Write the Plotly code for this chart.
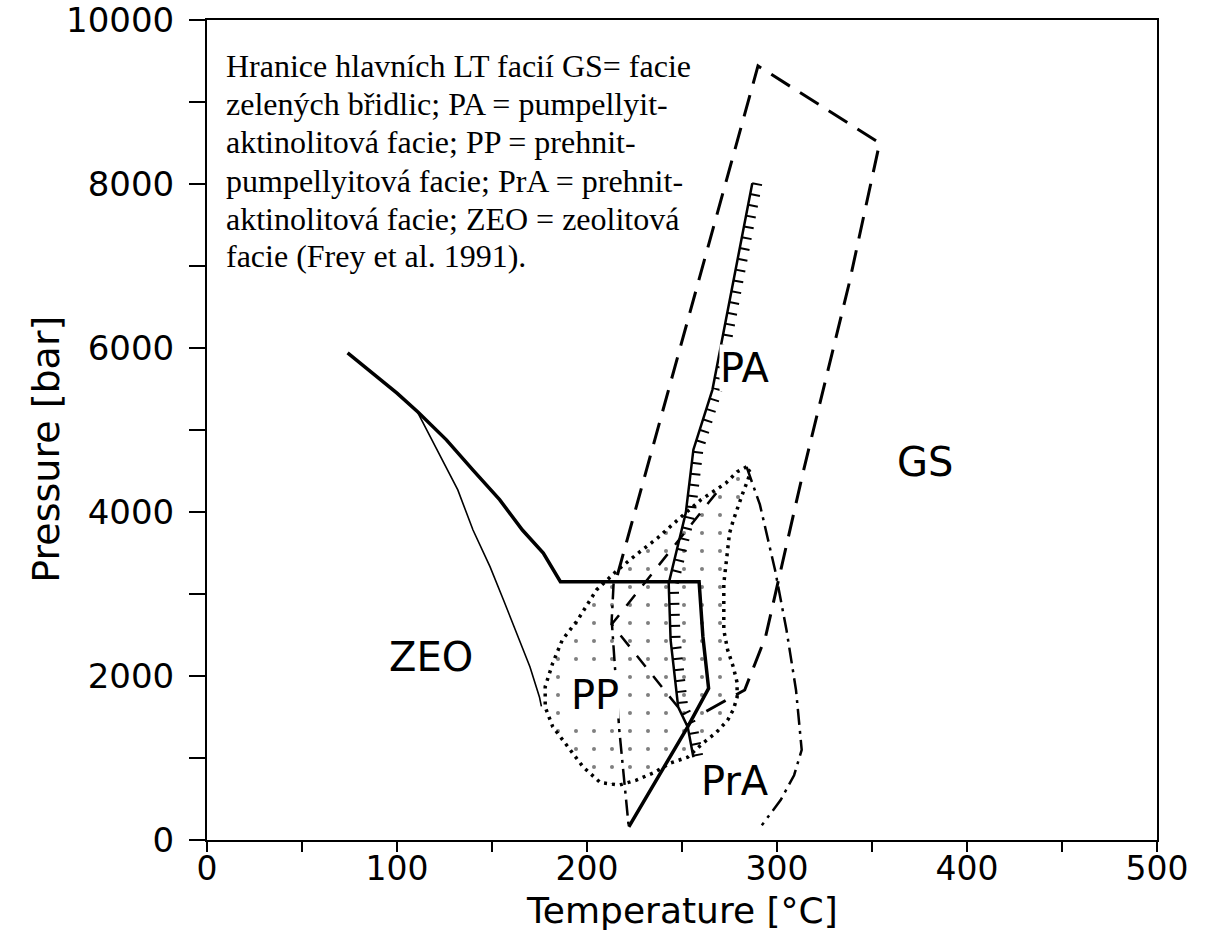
import plotly.graph_objects as go

# ---------------- data ----------------
x_tick_vals = [0, 100, 200, 300, 400, 500]
x_tick_text = ["0", "100", "200", "300", "400", "500"]
y_tick_vals = [0, 2000, 4000, 6000, 8000, 10000]
y_tick_text = ["0", "2000", "4000", "6000", "8000", "10000"]

# ZEO / PP boundary (thick solid)
zeo_T = [74, 87, 100, 111, 126, 140, 154, 166, 177, 186, 259, 261, 264, 253, 222]
zeo_P = [5940, 5700, 5450, 5220, 4880, 4510, 4150, 3780, 3500, 3150, 3150, 2480, 1850, 1380, 160]

# thin solid branch
thin_T = [111, 121, 132, 140, 149, 156, 163, 170, 175, 176]
thin_P = [5210, 4760, 4270, 3780, 3330, 2930, 2520, 2110, 1740, 1630]

# PA boundary (hachured line)
pa_T = [287, 275, 266, 256, 252, 243, 244, 248, 253, 256]
pa_P = [8010, 6590, 5490, 4760, 3990, 3130, 2440, 1620, 1380, 1010]

# GS outline (long dashes)
gs_T = [216, 290, 354, 338, 314, 294, 283, 262]
gs_P = [3230, 9440, 8500, 6790, 4510, 2480, 1830, 1560]

# PrA right boundary (dash-dot)
pra_r_T = [284, 291, 299, 305, 310, 313, 309, 302, 292]
pra_r_P = [4550, 4090, 3290, 2560, 1830, 1100, 790, 490, 180]

# PrA left boundary (dash-dot)
pra_l_T = [214, 213, 217, 222]
pra_l_P = [3130, 2680, 1340, 150]

# inner dashed boundary
inner_T = [268, 213, 250]
inner_P = [4230, 2630, 1560]

# PP field (dotted outline, stippled)
pp_T = [284, 279, 273, 260, 249, 237, 227, 216, 205, 195, 187, 182, 178, 178, 182, 190,
        198, 207, 217, 226, 235, 244, 253, 261, 268, 274, 277, 279, 279, 277, 274, 272,
        272, 272, 273, 274, 275, 277, 280, 282, 284, 286, 284]
pp_P = [4550, 4490, 4350, 4150, 3930, 3680, 3500, 3290, 3050, 2680, 2440, 2160, 1870, 1620, 1380, 1130,
        890, 700, 670, 730, 820, 940, 1010, 1180, 1310, 1460, 1590, 1740, 1920, 2110, 2320, 2560,
        2930, 3130, 3330, 3540, 3740, 3900, 4110, 4230, 4350, 4480, 4550]

# field labels
label_text = ["PA", "GS", "ZEO", "PP", "PrA"]
label_T = [283, 378, 118, 204, 278]
label_P = [5760, 4610, 2230, 1770, 720]

# caption lines and their positions (data coordinates)
caption_lines = ["Hranice hlavních LT facií GS= facie",
                 "zelených břidlic; PA = pumpellyit-",
                 "aktinolitová facie; PP = prehnit-",
                 "pumpellyitová facie; PrA = prehnit-",
                 "aktinolitová facie; ZEO = zeolitová",
                 "facie (Frey et al. 1991)."]
caption_T = 9
caption_P = [9440, 8980, 8510, 8040, 7570, 7120]

x_title = "Temperature [°C]"
y_title = "Pressure [bar]"

# ---------------- figure ----------------
SANS = "DejaVu Sans"
fig = go.Figure()

# PP stippled field
fig.add_trace(go.Scatter(
    x=pp_T, y=pp_P, mode="lines", fill="toself",
    fillcolor="rgba(0,0,0,0)",
    fillpattern=dict(shape=".", fgcolor="black", bgcolor="rgba(0,0,0,0)",
                     size=18, solidity=0.04),
    line=dict(color="black", width=3.5, dash="3px,5px"),
    hoverinfo="skip", showlegend=False))

fig.add_trace(go.Scatter(x=gs_T, y=gs_P, mode="lines",
                         line=dict(color="black", width=3, dash="22px,12px"),
                         showlegend=False))
fig.add_trace(go.Scatter(x=pra_r_T, y=pra_r_P, mode="lines",
                         line=dict(color="black", width=2.5, dash="16px,6px,3px,6px"),
                         showlegend=False))
fig.add_trace(go.Scatter(x=pra_l_T, y=pra_l_P, mode="lines",
                         line=dict(color="black", width=2.5, dash="16px,6px,3px,6px"),
                         showlegend=False))
fig.add_trace(go.Scatter(x=inner_T, y=inner_P, mode="lines",
                         line=dict(color="black", width=2.5, dash="14px,12px"),
                         showlegend=False))
fig.add_trace(go.Scatter(x=thin_T, y=thin_P, mode="lines",
                         line=dict(color="black", width=1.6),
                         showlegend=False))
fig.add_trace(go.Scatter(x=zeo_T, y=zeo_P, mode="lines",
                         line=dict(color="black", width=3.5),
                         showlegend=False))
fig.add_trace(go.Scatter(x=pa_T, y=pa_P, mode="lines",
                         line=dict(color="black", width=2.5),
                         showlegend=False))
# hachures of the PA line: same data drawn on an overlaid axis shifted a few pixels
fig.add_trace(go.Scatter(x=pa_T, y=pa_P, mode="lines", xaxis="x2",
                         line=dict(color="black", width=10, dash="2px,9px"),
                         showlegend=False))

for t, xx, yy in zip(label_text, label_T, label_P):
    fig.add_annotation(x=xx, y=yy, text=t, showarrow=False,
                       font=dict(family=SANS, size=40, color="black"),
                       bgcolor="white" if t in ("PA", "PP") else None,
                       borderpad=0)

for line, yy in zip(caption_lines, caption_P):
    fig.add_annotation(x=caption_T, y=yy, xanchor="left", yanchor="middle",
                       text=line, showarrow=False,
                       font=dict(family="Liberation Serif", size=32, color="black"))

# axis titles
fig.add_annotation(xref="paper", yref="paper", x=0.5, y=0, yshift=-70,
                   xanchor="center", yanchor="middle", text=x_title, showarrow=False,
                   font=dict(family=SANS, size=36, color="black"))
fig.add_annotation(xref="paper", yref="paper", x=0, y=0.476, xshift=-161,
                   xanchor="center", yanchor="middle", textangle=-90, text=y_title,
                   showarrow=False, font=dict(family=SANS, size=38, color="black"))

x_range = [0, 500]
shift_px = 5
px_per_unit = 950 / 500

fig.update_layout(
    width=1207, height=933,
    margin=dict(l=207, r=50, t=20, b=93, autoexpand=False),
    paper_bgcolor="white", plot_bgcolor="white",
    xaxis=dict(range=x_range, tickvals=x_tick_vals, ticktext=x_tick_text,
               ticks="outside", ticklen=10, automargin=False,
               tickwidth=2, tickcolor="black", showgrid=False, zeroline=False,
               showline=True, linecolor="black", linewidth=2, mirror=True,
               minor=dict(dtick=50, ticks="outside", ticklen=10, tickwidth=2,
                          tickcolor="black", showgrid=False),
               tickfont=dict(family=SANS, size=33, color="black"),
               ticklabelstandoff=-12, ticklabeloverflow="allow"),
    xaxis2=dict(range=[x_range[0] - shift_px / px_per_unit, x_range[1] - shift_px / px_per_unit],
                overlaying="x", visible=False),
    yaxis=dict(range=[0, 10000], tickvals=y_tick_vals, ticktext=y_tick_text,
               ticks="outside", ticklen=16, automargin=False,
               tickwidth=2, tickcolor="black", showgrid=False, zeroline=False,
               showline=True, linecolor="black", linewidth=2, mirror=True,
               minor=dict(dtick=1000, ticks="outside", ticklen=16, tickwidth=2,
                          tickcolor="black", showgrid=False),
               tickfont=dict(family=SANS, size=34, color="black"),
               ticklabelstandoff=8, ticklabeloverflow="allow"),
    showlegend=False,
)

fig.write_html("out.html", config={"displayModeBar": False},
               post_script="document.body.style.margin='0px';document.body.style.padding='0px';")
